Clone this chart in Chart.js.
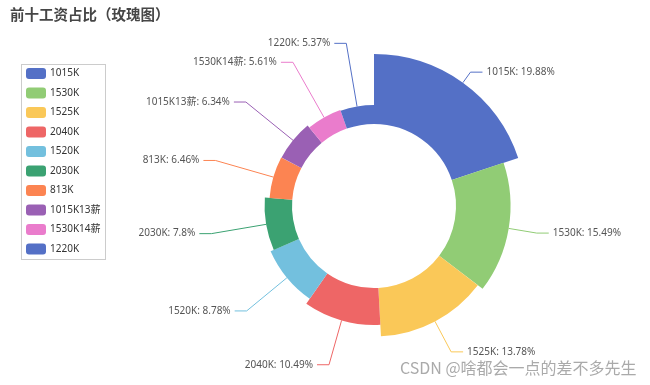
<!DOCTYPE html>
<html>
<head>
<meta charset="utf-8">
<script src="https://cdn.jsdelivr.net/npm/chart.js@4/dist/chart.umd.min.js"></script>
<style>
html,body{margin:0;padding:0;background:#fff;}
#wrap{width:650px;height:385px;position:relative;}
</style>
</head>
<body>
<div id="wrap"><canvas id="c" width="650" height="385"></canvas></div>
<script>
// ---- data ----
const chartTitle = '前十工资占比（玫瑰图）';
const categories = ['1015K','1530K','1525K','2040K','1520K','2030K','813K','1015K13薪','1530K14薪','1220K'];
const shares = [19.88, 15.49, 13.78, 10.49, 8.78, 7.8, 6.46, 6.34, 5.61, 5.37];
const watermark = 'CSDN @啥都会一点的差不多先生';

// ---- style ----
const palette = ['#5470c6','#91cc75','#fac858','#ee6666','#73c0de','#3ba272','#fc8452','#9a60b4','#ea7ccc','#5470c6'];
const FONT = '"Noto Sans", "Noto Sans CJK SC", sans-serif';
const CJK = '"Noto Sans CJK SC", "Noto Sans", sans-serif';
const holeRatio = 82 / 152;

const total = shares.reduce((a, b) => a + b, 0);
const vmax = Math.max(...shares);
const vmin = -vmax * holeRatio / (1 - holeRatio);

const roseHole = {
  id: 'roseHole',
  afterDatasetsUpdate(chart) {
    const scale = chart.scales.r;
    const r0 = scale.getDistanceFromCenterForValue(0);
    chart.getDatasetMeta(0).data.forEach(el => { el.innerRadius = r0; });
  }
};

const roseLabels = {
  id: 'roseLabels',
  afterDatasetsDraw(chart) {
    const ctx = chart.ctx;
    const scale = chart.scales.r;
    const R = scale.getDistanceFromCenterForValue(vmax);
    const meta = chart.getDatasetMeta(0);
    ctx.save();
    meta.data.forEach((el, i) => {
      const mid = (el.startAngle + el.endAngle) / 2;
      const c = Math.cos(mid), s = Math.sin(mid);
      const x1 = el.x + c * el.outerRadius, y1 = el.y + s * el.outerRadius;
      const x2 = el.x + c * (R + 13), y2 = el.y + s * (R + 13);
      const dir = c >= 0 ? 1 : -1;
      const x3 = x2 + dir * 12;
      ctx.strokeStyle = palette[i];
      ctx.lineWidth = 1;
      ctx.beginPath();
      ctx.moveTo(x1, y1); ctx.lineTo(x2, y2); ctx.lineTo(x3, y2);
      ctx.stroke();
      ctx.fillStyle = '#555';
      ctx.font = '10px ' + FONT;
      ctx.textBaseline = 'middle';
      ctx.textAlign = dir > 0 ? 'left' : 'right';
      ctx.fillText(categories[i] + ': ' + shares[i] + '%', x3 + dir * 4, y2);
    });
    ctx.restore();
  }
};

const decor = {
  id: 'decor',
  afterDraw(chart) {
    const ctx = chart.ctx;
    ctx.save();
    // title
    ctx.fillStyle = '#464646';
    ctx.font = 'bold 14.5px ' + CJK;
    ctx.textBaseline = 'middle';
    ctx.textAlign = 'left';
    ctx.fillText(chartTitle, 10, 14);
    // legend
    ctx.strokeStyle = '#ccc';
    ctx.lineWidth = 1;
    ctx.strokeRect(21.5, 64.5, 84, 195);
    categories.forEach((name, i) => {
      const y = 73.5 + i * 19.5;
      ctx.fillStyle = palette[i];
      ctx.beginPath();
      ctx.roundRect(26, y - 5.5, 20, 11, 3);
      ctx.fill();
      ctx.fillStyle = '#333';
      ctx.font = '10px ' + FONT;
      ctx.textAlign = 'left';
      ctx.textBaseline = 'middle';
      ctx.fillText(name, 50, y);
    });
    // watermark
    ctx.fillStyle = '#aaa';
    ctx.font = '16px ' + CJK;
    ctx.textAlign = 'left';
    ctx.textBaseline = 'middle';
    ctx.fillText(watermark, 400, 368);
    ctx.restore();
  }
};

new Chart(document.getElementById('c'), {
  type: 'polarArea',
  data: {
    labels: categories,
    datasets: [{
      data: shares,
      backgroundColor: palette,
      borderWidth: 0,
      angle: (ctx) => shares[ctx.dataIndex] / total * 360
    }]
  },
  options: {
    responsive: false,
    animation: false,
    events: [],
    layout: { padding: { left: 222, right: 124, top: 54, bottom: 27 } },
    plugins: { legend: { display: false }, title: { display: false }, tooltip: { enabled: false } },
    scales: {
      r: {
        min: vmin,
        max: vmax,
        bounds: 'data',
        startAngle: 0,
        ticks: { display: false },
        grid: { display: false },
        angleLines: { display: false },
        pointLabels: { display: false }
      }
    }
  },
  plugins: [roseHole, roseLabels, decor]
});
</script>
</body>
</html>
